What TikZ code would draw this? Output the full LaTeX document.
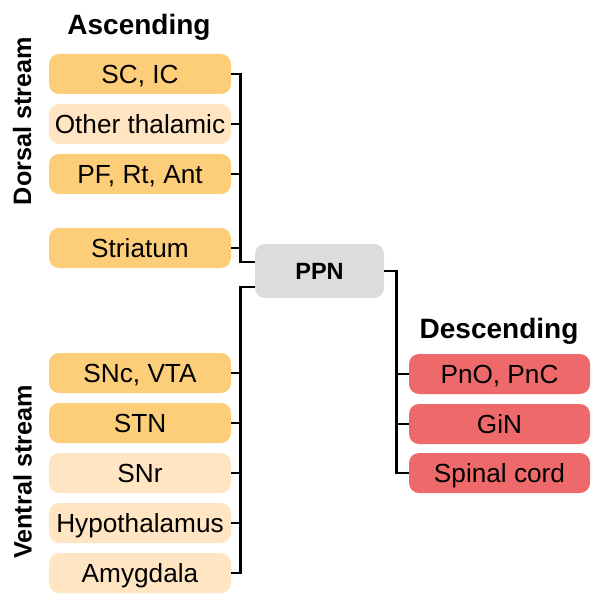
\documentclass[tikz,border=0pt]{standalone}
\usepackage{fontspec}
\setmainfont{Liberation Sans}
\usetikzlibrary{positioning, calc}
\definecolor{ascdark}{RGB}{253, 206, 122}
\definecolor{asclight}{RGB}{255, 229, 194}
\definecolor{descred}{RGB}{238, 106, 106}
\definecolor{ppngray}{RGB}{220, 220, 220}

\begin{document}
\begin{tikzpicture}[x=1pt, y=-1pt, font=\fontsize{26.2}{31}\selectfont,
  area/.style={rounded corners=10pt, minimum width=182pt, minimum height=40pt,
               inner sep=0pt, text height=18.5pt, text depth=0pt},
  link/.style={line width=2.8pt},
  heading/.style={font=\fontsize{28}{33}\selectfont\bfseries, anchor=base},
  stream/.style={font=\fontsize{25.2}{30}\selectfont\bfseries, rotate=90,
                 text height=18pt, text depth=0pt, inner sep=0pt}]
  \useasboundingbox (0,0) rectangle (610,612);
  % ascending boxes
  \foreach \n/\c/\y/\t in {sc/ascdark/74/{SC, IC}, oth/asclight/124/{Other thalamic},
                           pf/ascdark/174/{PF, Rt, Ant}, str/ascdark/248/{Striatum},
                           snc/ascdark/373/{SNc, VTA}, stn/ascdark/423/{STN},
                           snr/asclight/473/{SNr}, hyp/asclight/523/{Hypothalamus},
                           amy/asclight/573/{Amygdala}}{
    \node[area, fill=\c] (\n) at (140, \y) {\t};
  }
  % descending boxes
  \foreach \n/\y/\t in {pno/374/{PnO, PnC}, gin/424/{GiN}, spc/473/{Spinal cord}}{
    \node[area, fill=descred, minimum width=181pt] (\n) at (499.5, \y) {\t};
  }
  \node[area, fill=ppngray, minimum width=129pt, minimum height=54pt,
        text height=17pt, font=\fontsize{23.5}{28}\selectfont\bfseries]
        (ppn) at (319.5, 271) {PPN};

  \node[heading] (asc) at (139, 35) {Ascending};
  \node[heading] (desc) at (499, 338) {Descending};
  \node[stream] (dors) at (22, 121) {Dorsal stream};
  \node[stream] (vent) at (22.5, 472) {Ventral stream};

  % dorsal stream
  \draw[link] (sc.east) -- ++(9, 0) coordinate (trunk) |- ([yshift=9pt]ppn.west);
  \foreach \n in {oth, pf, str}
    \draw[link] (\n.east) -- (\n.east -| trunk);
  % ventral stream
  \draw[link] ([yshift=-16pt]ppn.west) -| (amy.east -| trunk) -- (amy.east);
  \foreach \n in {snc, stn, snr, hyp}
    \draw[link] (\n.east) -- (\n.east -| trunk);
  % descending
  \draw[link] (ppn.east) -- ++(12, 0) coordinate (rtrunk) |- (spc.west);
  \foreach \n in {pno, gin}
    \draw[link] (\n.west) -- (\n.west -| rtrunk);
\end{tikzpicture}
\end{document}
